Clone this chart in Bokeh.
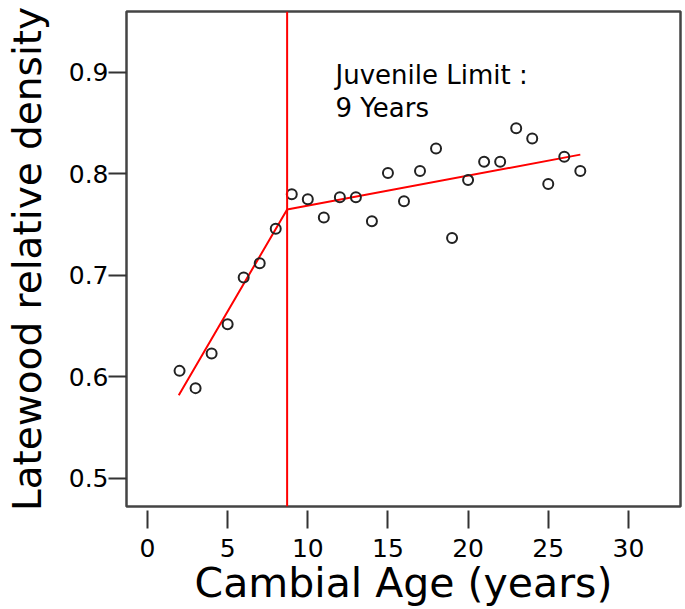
from bokeh.plotting import figure
from bokeh.models import FixedTicker, Span, Label, Range1d
from bokeh.embed import file_html
from bokeh.resources import INLINE

# ---- data ----
cambial_age = [2, 3, 4, 5, 6, 7, 8, 9, 10, 11, 12, 13, 14, 15, 16, 17, 18, 19, 20,
               21, 22, 23, 24, 25, 26, 27]
latewood_density = [0.606, 0.589, 0.623, 0.652, 0.698, 0.712, 0.746, 0.780, 0.775,
                    0.757, 0.777, 0.777, 0.7535, 0.801, 0.773, 0.803, 0.825, 0.737,
                    0.794, 0.812, 0.812, 0.845, 0.835, 0.790, 0.817, 0.803]
fit_age = [1.95, 8.71, 27.0]
fit_density = [0.582, 0.765, 0.819]
juvenile_limit = 8.71
x_ticks = [0, 5, 10, 15, 20, 25, 30]
y_ticks = [0.5, 0.6, 0.7, 0.8, 0.9]
annotation_lines = ["Juvenile Limit :", "9 Years"]
x_title = "Cambial Age (years)"
y_title = "Latewood relative density"

FONT = "DejaVu Sans"

p = figure(width=685, height=609, output_backend="svg", toolbar_location=None,
           x_range=Range1d(-1.31, 33.25), y_range=Range1d(0.4724, 0.960),
           min_border_left=126, min_border_right=5, min_border_top=11,
           min_border_bottom=103)
p.background_fill_color = "white"
p.border_fill_color = "white"
p.outline_line_color = "#444444"
p.outline_line_width = 2.5
p.xgrid.visible = False
p.ygrid.visible = False

for ax in (p.xaxis, p.yaxis):
    ax.axis_line_color = None
    ax.major_tick_line_color = "#333333"
    ax.major_tick_line_width = 2
    ax.minor_tick_line_color = None
    ax.major_label_text_font = FONT
    ax.major_label_text_font_size = "25px"
    ax.major_label_text_color = "black"
    ax.axis_label_text_font = FONT
    ax.axis_label_text_font_style = "normal"
    ax.axis_label_text_color = "black"

p.xaxis.ticker = FixedTicker(ticks=x_ticks)
p.yaxis.ticker = FixedTicker(ticks=y_ticks)
p.xaxis.major_tick_in = -4
p.xaxis.major_tick_out = 22
p.xaxis.major_label_standoff = 10
p.yaxis.major_tick_in = 0
p.yaxis.major_tick_out = 18
p.yaxis.major_label_standoff = 0

p.xaxis.axis_label = x_title
p.xaxis.axis_label_text_font_size = "41px"
p.xaxis.axis_label_standoff = -1
p.yaxis.axis_label = y_title
p.yaxis.axis_label_text_font_size = "39px"
p.yaxis.axis_label_standoff = 16

# fitted segments and juvenile limit
p.line(fit_age, fit_density, line_color="#ff0000", line_width=2)
p.add_layout(Span(location=juvenile_limit, dimension="height",
                  line_color="#ff0000", line_width=2))

# observations
p.scatter(cambial_age, latewood_density, marker="circle", size=10,
          fill_color=None, line_color="#222222", line_width=2)

# annotation
p.add_layout(Label(x=11.73, y=0.897, text=annotation_lines[0], text_font=FONT,
                   text_font_size="26px", text_baseline="alphabetic",
                   text_color="black"))
p.add_layout(Label(x=11.73, y=0.8645, text=annotation_lines[1], text_font=FONT,
                   text_font_size="26px", text_baseline="alphabetic",
                   text_color="black"))

open("out.html", "w").write(file_html(p, INLINE))
